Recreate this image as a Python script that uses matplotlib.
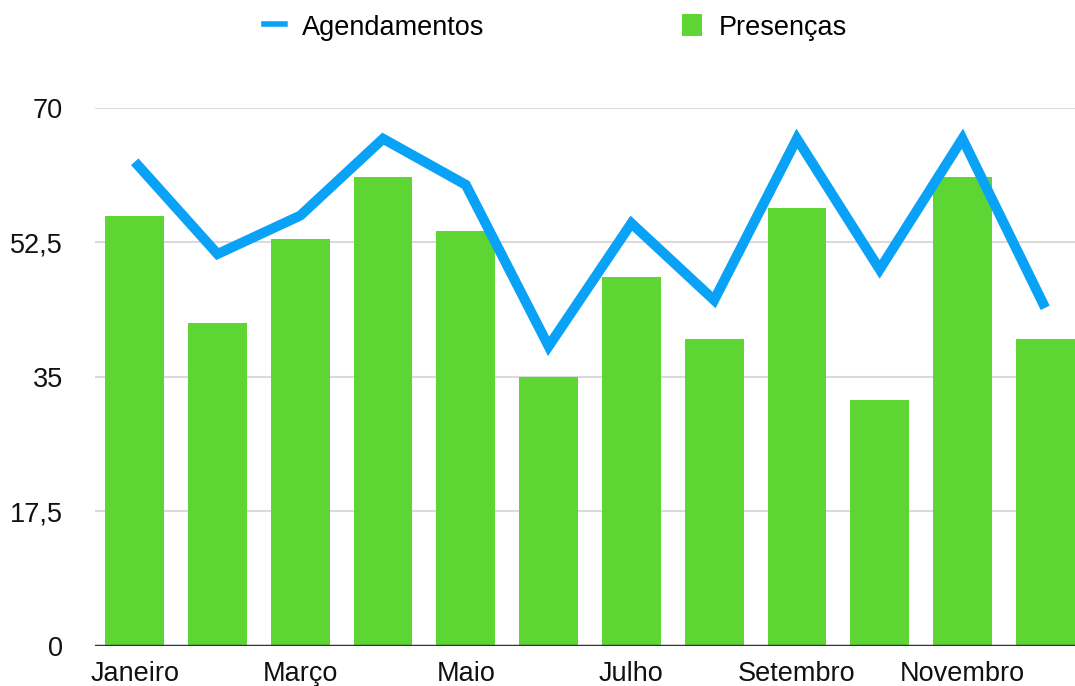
import numpy as np
import matplotlib
matplotlib.use("Agg")
import matplotlib.pyplot as plt
from matplotlib.lines import Line2D
from matplotlib.patches import Patch
from matplotlib.ticker import FuncFormatter

# -------------------------------
# Data
# -------------------------------
meses = ["Janeiro", "Fevereiro", "Março", "Abril", "Maio", "Junho",
         "Julho", "Agosto", "Setembro", "Outubro", "Novembro", "Dezembro"]
presencas = [56, 42, 53, 61, 54, 35, 48, 40, 57, 32, 61, 40]
agendamentos = [63, 51, 56, 66, 60, 39, 55, 45, 66, 49, 66, 44]
y_ticks = [0, 17.5, 35, 52.5, 70]

verde = "#5DD634"
azul = "#0AA2F7"

plt.rcParams["font.family"] = ["Liberation Sans", "DejaVu Sans"]

fig = plt.figure(figsize=(10.75, 6.86), dpi=100)
ax = fig.add_axes([0.0884, 0.0583, 0.9116, 0.7843])

x = np.arange(len(meses))
ax.bar(x, presencas, width=0.71, color=verde, zorder=2)
ax.plot(x, agendamentos, color=azul, lw=7.2, zorder=3,
        solid_joinstyle="miter", solid_capstyle="butt")

ax.set_xlim(-0.48, 11.36)
ax.set_ylim(0, 70)
ax.set_yticks(y_ticks)
ax.yaxis.set_major_formatter(FuncFormatter(
    lambda v, p: (f"{v:g}").replace(".", ",")))
ax.set_xticks(x[::2])
ax.set_xticklabels(meses[::2])

ax.grid(axis="y", color="#DADADA", lw=1.5, zorder=0)
ax.axhline(0, color="#333333", lw=2.5, zorder=4)
for s in ax.spines.values():
    s.set_visible(False)
ax.tick_params(axis="both", length=0, labelsize=19.5, colors="#111111")
ax.tick_params(axis="y", pad=23)
ax.tick_params(axis="x", pad=11)

handles = [Line2D([0], [0], color=azul, lw=4),
           Patch(facecolor=verde)]
fig.legend(handles, ["Agendamentos", "Presenças"], loc="center",
           bbox_to_anchor=(0.517, 0.96), ncol=2, frameon=False,
           fontsize=19.5, handlelength=0.75, handleheight=0.85,
           handletextpad=0.63, columnspacing=7.3)

fig.savefig("out.png", dpi=100)
